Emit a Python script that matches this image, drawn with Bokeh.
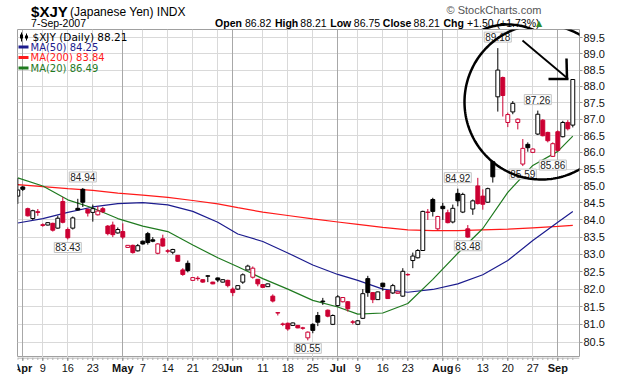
import numpy as np
import pandas as pd
from bokeh.plotting import figure
from bokeh.layouts import column
from bokeh.models import (ColumnDataSource, FixedTicker, Range1d, Label, PrintfTickFormatter,
                          Grid, PolyAnnotation, Arrow)
from bokeh.embed import file_html
from bokeh.resources import INLINE

# ---------------- data ----------------
holidays = ["2007-04-06", "2007-05-28", "2007-07-04", "2007-09-03"]
days = [d.strftime("%Y-%m-%d") for d in pd.bdate_range("2007-03-30", "2007-09-07")]
days = [d for d in days if d not in holidays]
x_of = {d: i - 1 for i, d in enumerate(days)}          # 2 Apr 2007 -> 0

opens = [84.70, 84.97, 84.33, 84.04, 84.24, 83.86, 83.85, 83.90, 83.76, 84.54,
         83.72, 83.76, 84.34, 84.90, 84.31, 84.22, 84.15, 84.33, 83.82, 83.85,
         83.62, 83.66, 83.20, 83.26, 83.10, 83.38, 83.60, 83.42, 83.03, 83.45,
         83.10, 83.06, 82.97, 82.55, 82.74, 82.25, 82.31, 82.27, 82.38, 82.20,
         82.32, 82.20, 82.25, 82.00, 82.00, 82.20, 82.55, 82.34, 82.28, 82.13,
         82.07, 81.80, 81.33, 81.01, 81.03, 80.97, 80.97, 80.90, 80.62, 81.00,
         81.25, 81.66, 81.40, 81.00, 81.53, 81.64, 81.64, 81.07, 81.00, 81.17,
         82.30, 81.90, 81.70, 82.17, 81.96, 81.89, 81.88, 81.80, 82.42, 82.82,
         82.90, 83.11, 84.23, 84.60, 83.74, 84.40, 84.21, 83.94, 84.78, 84.23,
         83.74, 84.32, 85.00, 84.70, 84.52, 85.72, 87.68, 88.27, 86.90, 87.22,
         86.90, 85.65, 86.24, 86.00, 86.55, 86.97, 86.60, 85.88, 86.62, 86.47,
         86.90, 86.82]
highs = [85.23, 85.00, 84.36, 84.30, 84.32, 83.90, 83.93, 83.92, 84.12, 84.67,
         83.78, 84.10, 84.62, 84.94, 84.33, 84.45, 84.40, 84.38, 83.85, 83.95,
         83.78, 83.90, 83.27, 83.28, 83.30, 83.40, 83.65, 83.50, 83.32, 83.57,
         83.15, 83.16, 82.98, 82.60, 82.82, 82.34, 82.37, 82.28, 82.40, 82.21,
         82.33, 82.28, 82.27, 82.05, 82.11, 82.45, 82.70, 82.65, 82.29, 82.14,
         82.16, 81.85, 81.33, 81.05, 81.05, 81.05, 80.98, 80.93, 80.80, 81.03,
         81.35, 81.75, 81.42, 81.28, 81.83, 81.77, 81.66, 81.12, 81.12, 82.00,
         82.38, 81.91, 81.93, 82.18, 81.97, 82.15, 81.93, 82.60, 82.45, 83.05,
         83.15, 84.27, 84.32, 84.65, 84.12, 84.50, 84.30, 84.45, 84.92, 84.80,
         83.85, 84.60, 85.24, 84.90, 84.95, 85.75, 89.18, 88.30, 87.20, 87.55,
         87.02, 86.40, 86.30, 86.12, 87.26, 87.00, 86.62, 86.30, 86.66, 86.95,
         86.97, 88.21]
lows = [84.47, 84.85, 84.10, 84.00, 84.12, 83.80, 83.84, 83.66, 83.74, 83.90,
        83.43, 83.72, 84.27, 84.38, 84.10, 83.95, 84.13, 84.20, 83.55, 83.50,
        83.60, 83.44, 83.19, 83.02, 83.08, 83.28, 83.28, 83.35, 83.00, 83.22,
        83.03, 83.00, 82.78, 82.38, 82.48, 82.24, 82.24, 82.18, 82.20, 82.14,
        82.20, 82.19, 82.05, 81.80, 81.98, 82.15, 82.54, 82.30, 82.08, 82.04,
        82.06, 81.62, 81.25, 80.95, 80.82, 80.96, 80.89, 80.85, 80.55, 80.75,
        80.95, 81.55, 81.20, 80.98, 81.50, 81.62, 81.36, 81.00, 80.98, 81.15,
        81.78, 81.60, 81.69, 81.95, 81.72, 81.86, 81.87, 81.78, 82.38, 82.60,
        82.88, 83.10, 84.00, 84.10, 83.70, 84.00, 83.90, 83.90, 84.40, 84.20,
        83.48, 84.15, 84.45, 84.30, 84.50, 85.10, 87.23, 87.08, 86.76, 87.15,
        86.69, 85.59, 86.02, 85.98, 86.52, 86.48, 86.30, 85.86, 86.03, 86.45,
        86.66, 86.75]
closes = [84.88, 84.90, 84.12, 84.27, 84.22, 83.84, 83.92, 83.70, 84.05, 83.93,
          83.48, 84.06, 84.29, 84.52, 84.20, 84.33, 84.26, 84.24, 83.60, 83.57,
          83.72, 83.50, 83.26, 83.05, 83.25, 83.30, 83.34, 83.38, 83.30, 83.24,
          83.09, 83.14, 82.80, 82.42, 82.53, 82.33, 82.30, 82.20, 82.37, 82.15,
          82.26, 82.27, 82.10, 81.90, 82.10, 82.41, 82.66, 82.60, 82.15, 82.05,
          82.15, 81.66, 81.32, 81.00, 80.87, 81.04, 80.90, 80.89, 80.78, 80.83,
          81.06, 81.64, 81.23, 81.25, 81.78, 81.76, 81.44, 81.06, 81.10, 81.87,
          81.90, 81.70, 81.92, 82.07, 81.73, 82.10, 81.92, 82.51, 82.41, 82.95,
          83.11, 84.25, 84.22, 84.25, 84.10, 84.33, 83.92, 84.34, 84.56, 84.75,
          83.50, 84.56, 84.48, 84.46, 84.92, 85.27, 88.50, 87.72, 87.14, 87.48,
          87.00, 86.12, 86.14, 86.10, 87.15, 86.50, 86.35, 86.26, 86.06, 86.90,
          86.71, 88.21]
prev_close_start = 84.60

ma_dates = ["2007-03-30", "2007-04-09", "2007-04-16", "2007-04-23", "2007-04-30", "2007-05-07",
            "2007-05-14", "2007-05-21", "2007-05-29", "2007-06-04", "2007-06-11", "2007-06-18",
            "2007-06-25", "2007-07-02", "2007-07-09", "2007-07-16", "2007-07-23", "2007-07-30",
            "2007-08-06", "2007-08-13", "2007-08-20", "2007-08-27", "2007-09-04", "2007-09-07"]
ma50 = [83.91, 84.04, 84.22, 84.38, 84.48, 84.51, 84.44, 84.25, 83.93, 83.59, 83.37, 83.04,
        82.69, 82.42, 82.25, 82.00, 81.91, 81.99, 82.15, 82.41, 82.82, 83.40, 83.93, 84.25]
ma200 = [85.04, 84.98, 84.92, 84.87, 84.79, 84.73, 84.66, 84.57, 84.47, 84.36, 84.23, 84.13,
         84.03, 83.94, 83.87, 83.78, 83.71, 83.69, 83.69, 83.71, 83.73, 83.77, 83.81, 83.84]
ma20 = [85.24, 85.00, 84.59, 84.35, 84.04, 83.82, 83.66, 83.27, 82.90, 82.64, 82.30, 82.00,
        81.68, 81.49, 81.29, 81.32, 81.59, 82.28, 83.03, 83.75, 84.81, 85.61, 86.03, 86.49]

month_dates = ["2007-04-02", "2007-05-01", "2007-06-01", "2007-07-02", "2007-08-01", "2007-09-04"]
month_labels = ["Apr", "May", "Jun", "Jul", "Aug", "Sep"]
week_dates = ["2007-04-09", "2007-04-16", "2007-04-23", "2007-05-07", "2007-05-14", "2007-05-21",
              "2007-05-29", "2007-06-11", "2007-06-18", "2007-06-25", "2007-07-09", "2007-07-16",
              "2007-07-23", "2007-08-06", "2007-08-13", "2007-08-20", "2007-08-27"]
week_labels = ["9", "16", "23", "7", "14", "21", "29", "11", "18", "25", "9", "16", "23",
               "6", "13", "20", "27"]
price_ticks = [80.5, 81.0, 81.5, 82.0, 82.5, 83.0, 83.5, 84.0, 84.5, 85.0,
               85.5, 86.0, 86.5, 87.0, 87.5, 88.0, 88.5, 89.0, 89.5]

callout_dates = ["2007-04-19", "2007-04-16", "2007-06-22", "2007-08-06", "2007-08-08",
                 "2007-08-16", "2007-08-28", "2007-08-23", "2007-08-31"]
callout_side = ["high", "low", "low", "high", "low", "high", "high", "low", "low"]

# ---------------- geometry ----------------
RED = "#cc0033"
W = 620
X0, X1 = -1.06, 111.34
Y0, Y1 = 80.07, 89.76
FL, FT, FW, FH = 17, 29, 562, 328          # frame left/top/width/height on the page
FB = FT + FH
FOOT = 376 - FB
K = FH / np.log(Y1 / Y0)
x_range = Range1d(X0, X1)


def dx(px):
    return X0 + (px - FL) / FW * (X1 - X0)


def dy(py):
    return float(Y1 * np.exp(-(py - FT) / K))


def bare(fig):
    fig.outline_line_color = None
    fig.background_fill_color = "white"
    fig.border_fill_color = "white"
    for g in fig.grid:
        g.visible = False


# ---------------- header strip ----------------
head = figure(width=W, height=FT, x_range=Range1d(0, W), y_range=Range1d(FT, 0),
              x_axis_location=None, y_axis_location=None, toolbar_location=None,
              output_backend="svg", title=None, min_border=0)
bare(head)


def htxt(s, px, pc, size, bold=False, color="#000000", align="left", font="Liberation Sans"):
    # pc = vertical centre of the text line
    head.add_layout(Label(x=px, y=pc, text=s, text_font=font, text_font_size=f"{size}px",
                          text_font_style="bold" if bold else "normal", text_color=color,
                          text_align=align, text_baseline="middle"))


htxt("$XJY", 15, 10.5, 15, bold=True)
htxt("(Japanese Yen) INDX", 58, 11.3, 12)
htxt("7-Sep-2007", 15, 22.4, 10.5)
htxt("© StockCharts.com", 578, 9.8, 11, color="#555555", align="right")
row = [("Open", True, 218), ("86.82", False, 251), ("High", True, 284), ("88.21", False, 312),
       ("Low", True, 345), ("86.75", False, 371), ("Close", True, 403), ("88.21", False, 437),
       ("Chg", True, 470), ("+1.50 (+1.73%)", False, 496)]
for s, b, px in row:
    htxt(s, px, 22.4, 10.5, bold=b)
htxt("▲", 572, 22.6, 8, color="#2e8b2e", font="DejaVu Sans")
t = np.linspace(0, 2 * np.pi, 240)
CX, CY, RX, RY = 541, 101.5, 77, 77.5
head.line(CX + RX * np.cos(t), CY + RY * np.sin(t), line_color="black", line_width=2.5)

# ---------------- main chart ----------------
p = figure(width=W, height=FH, x_range=x_range, y_range=Range1d(Y0, Y1),
           y_axis_type="log", y_axis_location="right", x_axis_location=None,
           toolbar_location=None, output_backend="svg", title=None,
           min_border_left=FL, min_border_right=W - FL - FW, min_border_top=0,
           min_border_bottom=0)
p.outline_line_color = "#a0a0a0"
p.background_fill_color = "white"
p.border_fill_color = "white"

yax = p.yaxis[0]
yax.ticker = FixedTicker(ticks=price_ticks)
yax.formatter = PrintfTickFormatter(format="%.1f")
yax.axis_line_color = None
yax.major_tick_out = 3
yax.major_tick_in = 0
yax.minor_tick_out = 0
yax.major_tick_line_color = "#999999"
yax.major_label_standoff = 1
yax.major_label_text_font = "Liberation Sans"
yax.major_label_text_font_size = "11px"
yax.major_label_text_color = "#111111"
p.ygrid.ticker = FixedTicker(ticks=price_ticks)
p.ygrid.grid_line_color = "#d9d9d9"

month_x = [x_of[d] for d in month_dates]
week_x = [x_of[d] for d in week_dates]
xs = [x_of[d] for d in days]
p.xgrid.ticker = FixedTicker(ticks=week_x)
p.xgrid.grid_line_color = "#d9d9d9"
p.add_layout(Grid(dimension=0, ticker=FixedTicker(ticks=month_x), grid_line_color="#a8a8a8"))

ma_x = [x_of[d] for d in ma_dates]
p.line(ma_x, ma200, line_color="#ff1a1a", line_width=1.2)
p.line(ma_x, ma50, line_color="#1c1c8e", line_width=1.2)
p.line(ma_x, ma20, line_color="#1f7a1f", line_width=1.2)

o = np.array(opens); c = np.array(closes); h = np.array(highs); l = np.array(lows)
prev = np.concatenate([[prev_close_start], c[:-1]])
col = np.where(c >= prev, "#000000", RED)
fill = np.where(c > o, "#ffffff", col)
src = ColumnDataSource(dict(x=xs, h=h, l=l, top=np.maximum(o, c), bot=np.minimum(o, c),
                            col=col, fill=fill))
p.segment(x0="x", y0="l", x1="x", y1="h", source=src, line_color="col", line_width=1)
p.vbar(x="x", width=0.78, top="top", bottom="bot", source=src, fill_color="fill",
       line_color="col", line_width=1)

for d, side in zip(callout_dates, callout_side):
    i = x_of[d] + 1
    v = highs[i] if side == "high" else lows[i]
    p.add_layout(Label(x=x_of[d], y=v, text=f"{v:.2f}", text_font="Liberation Sans",
                       text_font_size="10px", text_color="#222222", text_align="center",
                       text_baseline="bottom" if side == "high" else "top",
                       y_offset=6 if side == "high" else -3,
                       background_fill_color="white", border_line_color="#c4c4c4",
                       padding=1))


def txt(s, px, pc, size, color="#000000"):
    p.add_layout(Label(x=dx(px), y=dy(pc), text=s, text_font="DejaVu Sans",
                       text_font_size=f"{size}px", text_color=color,
                       text_align="left", text_baseline="middle"))


def seg(x0, y0, x1, y1, color, width):
    p.add_layout(Arrow(end=None, x_start=x0 - FL, y_start=FB - y0, x_end=x1 - FL, y_end=FB - y1,
                       start_units="screen", end_units="screen", line_color=color,
                       line_width=width))


# legend
txt("$XJY (Daily) 88.21", 32, 36.5, 10.5)
seg(21, 32, 21, 41, "#000000", 1)
seg(21, 34, 21, 38, "#000000", 3)
seg(26, 33, 26, 40, "#000000", 1)
seg(26, 35, 26, 38, "#000000", 3)
txt("MA(50) 84.25", 30, 46.5, 10, color="#1c1c8e")
seg(18, 46.5, 28, 46.5, "#1c1c8e", 3)
txt("MA(200) 83.84", 30, 57, 10, color="#ff1a1a")
seg(18, 57, 28, 57, "#ff1a1a", 3)
txt("MA(20) 86.49", 30, 67.5, 10, color="#1f7a1f")
seg(18, 67.5, 28, 67.5, "#1f7a1f", 3)

# hand-drawn circle and arrow
p.add_layout(PolyAnnotation(xs=(CX - FL + RX * np.cos(t)).tolist(),
                            ys=(FB - CY + RY * np.sin(t)).tolist(),
                            xs_units="screen", ys_units="screen", fill_alpha=0,
                            line_color="black", line_alpha=1.0, line_width=2.5))
seg(522, 40, 566, 77, "#000000", 1.8)
seg(566, 58, 566.5, 78, "#000000", 2.5)
seg(548, 78.5, 568, 78.5, "#000000", 2.5)

# ---------------- date-axis strip (shares the chart's x scale) ----------------
foot = figure(width=W, height=FOOT, x_range=x_range, y_range=Range1d(FOOT, 0),
              x_axis_location=None, y_axis_location=None, toolbar_location=None,
              output_backend="svg", title=None, min_border_left=FL,
              min_border_right=W - FL - FW, min_border_top=0, min_border_bottom=0)
bare(foot)
foot.segment(x0=[X0], y0=[0.5], x1=[X1], y1=[0.5], line_color="#a0a0a0", line_width=1)
foot.segment(x0=xs, y0=[0] * len(xs), x1=xs, y1=[2.5] * len(xs), line_color="#b0b0b0",
             line_width=1)
tick_x = week_x + month_x
foot.segment(x0=tick_x, y0=[0] * len(tick_x), x1=tick_x, y1=[3.5] * len(tick_x),
             line_color="#888888", line_width=1)
for wx, lab in zip(week_x, week_labels):
    foot.add_layout(Label(x=wx, y=10.5, text=lab, text_font="Liberation Sans",
                          text_font_size="11px", text_color="#111111", text_align="center",
                          text_baseline="middle"))
for mx, lab in zip(month_x, month_labels):
    foot.add_layout(Label(x=mx, y=10.5, text=lab, text_font="Liberation Sans",
                          text_font_size="11px", text_font_style="bold", text_color="#111111",
                          text_align="center", text_baseline="middle"))

page = column(head, p, foot, spacing=0)
open("out.html", "w").write(file_html(page, INLINE))
